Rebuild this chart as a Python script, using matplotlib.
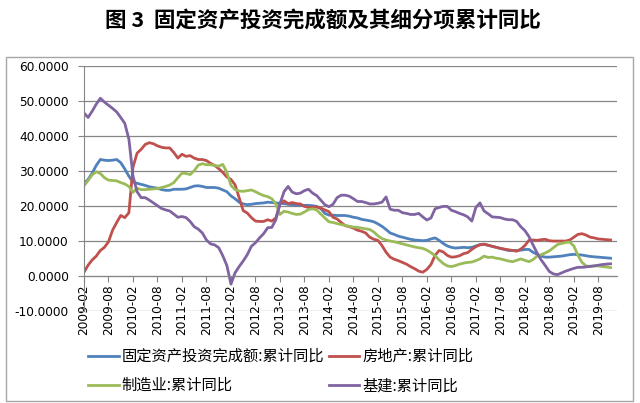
import pandas as pd
import matplotlib
matplotlib.use('Agg')
import matplotlib.pyplot as plt
from matplotlib.patches import Rectangle
from matplotlib.ticker import FuncFormatter

# Mois : 2009-02 -> 2019-11
mois = pd.date_range('2009-02', '2019-11', freq='MS')
etiquettes = list(mois.strftime('%Y-%m'))

# 固定资产投资完成额:累计同比
fai = [26.3, 27.5, 29.3, 31.5, 33.2, 33.0, 32.9, 33.0, 33.2, 32.3, 30.5,
       28.4, 26.8, 26.4, 26.1, 25.8, 25.4, 25.2, 25.0, 24.6, 24.4, 24.4, 24.7,
       24.7, 24.7, 24.8, 25.2, 25.6, 25.7, 25.5, 25.2, 25.2, 25.2, 25.0, 24.5,
       24.0, 22.8, 22.0, 21.0, 20.5, 20.3, 20.4, 20.6, 20.7, 20.8, 21.0, 20.9,
       20.8, 20.7, 20.6, 20.4, 20.3, 20.2, 20.1, 20.1, 20.1, 20.0, 19.8, 19.2,
       17.8, 17.3, 17.3, 17.2, 17.2, 17.2, 17.0, 16.7, 16.5, 16.1, 15.9, 15.7,
       15.4, 14.8, 14.1, 13.2, 12.2, 11.8, 11.3, 11.0, 10.7, 10.4, 10.2, 10.1,
       10.0, 10.1, 10.5, 10.8, 10.1, 9.2, 8.5, 8.1, 7.9, 8.0, 8.1, 8.0,
       8.1, 8.5, 8.9, 9.0, 8.7, 8.4, 8.1, 7.8, 7.5, 7.2, 7.2, 7.2,
       7.3, 7.5, 7.5, 6.7, 6.1, 5.6, 5.3, 5.3, 5.4, 5.5, 5.6, 5.8,
       6.0, 6.1, 6.0, 5.9, 5.7, 5.5, 5.4, 5.3, 5.2, 5.1, 5.0]

# 房地产:累计同比
immo = [1.0, 3.0, 4.5, 5.6, 7.2, 8.1, 9.7, 13.0, 15.2, 17.2, 16.6,
        18.0, 31.0, 35.0, 36.1, 37.5, 38.0, 37.7, 37.1, 36.7, 36.5, 36.5, 35.2,
        33.6, 34.7, 34.1, 34.3, 33.6, 33.2, 33.2, 32.9, 32.1, 31.5, 30.6, 29.5,
        28.2, 27.5, 26.0, 22.3, 18.6, 17.9, 16.6, 15.6, 15.5, 15.5, 16.0, 15.6,
        16.5, 20.5, 21.4, 20.6, 20.9, 20.6, 20.5, 19.8, 19.5, 19.6, 19.6, 19.3,
        18.8, 18.3, 16.7, 16.2, 15.2, 14.3, 14.0, 13.6, 13.0, 12.7, 12.2, 11.0,
        10.4, 10.1, 8.6, 6.7, 5.3, 4.7, 4.3, 3.8, 3.3, 2.6, 2.0, 1.3,
        1.0, 1.8, 3.2, 5.8, 7.2, 6.8, 5.8, 5.3, 5.4, 5.7, 6.3, 6.6,
        7.5, 8.3, 8.8, 9.0, 8.7, 8.4, 8.1, 7.8, 7.6, 7.4, 7.2, 7.0,
        7.6, 8.6, 10.1, 10.2, 10.1, 10.3, 10.4, 10.0, 9.9, 9.9, 9.9, 9.9,
        10.2, 11.0, 11.8, 12.0, 11.6, 11.0, 10.8, 10.5, 10.4, 10.3, 10.2]

# 制造业:累计同比
manuf = [25.7, 27.2, 28.8, 29.7, 29.2, 28.0, 27.3, 27.2, 27.1, 26.6, 26.2,
         25.5, 23.8, 25.0, 24.6, 24.6, 24.7, 24.8, 24.9, 25.2, 25.5, 25.9, 26.6,
         28.0, 29.3, 29.2, 28.9, 30.0, 31.6, 32.0, 31.7, 31.7, 31.5, 31.3, 31.8,
         29.5, 25.8, 24.6, 24.2, 24.1, 24.3, 24.5, 24.0, 23.4, 22.9, 22.6, 22.0,
         20.5, 17.5, 18.4, 18.2, 17.8, 17.5, 17.6, 18.2, 18.9, 19.1, 18.8, 17.6,
         16.5, 15.4, 15.2, 14.9, 14.6, 14.4, 14.1, 13.9, 13.8, 13.6, 13.4, 13.2,
         12.5, 11.4, 10.6, 10.2, 9.9, 9.7, 9.4, 9.1, 8.8, 8.5, 8.2, 8.0,
         7.8, 7.3, 6.6, 5.7, 4.5, 3.5, 2.8, 2.6, 2.9, 3.3, 3.6, 3.8,
         3.9, 4.3, 4.8, 5.6, 5.2, 5.3, 5.0, 4.8, 4.5, 4.2, 4.0, 4.4,
         4.8, 4.4, 4.0, 4.6, 5.6, 6.0, 6.5, 7.1, 8.0, 8.9, 9.2, 9.5,
         9.6, 8.5, 5.8, 3.8, 2.8, 2.6, 2.8, 2.8, 2.6, 2.5, 2.3]

# 基建:累计同比
infra = [46.5, 45.2, 47.0, 49.0, 50.7, 49.6, 48.7, 47.8, 46.8, 45.2, 43.5,
         39.0, 28.5, 24.0, 22.3, 22.3, 21.6, 20.8, 20.0, 19.2, 18.8, 18.5, 17.6,
         16.7, 16.9, 16.6, 15.5, 14.0, 13.3, 12.2, 10.2, 9.1, 8.8, 8.0, 5.7,
         2.9, -2.4, 0.8, 2.6, 4.2, 6.0, 8.4, 9.4, 10.8, 12.0, 13.7, 13.8,
         16.0, 20.5, 24.0, 25.5, 23.9, 23.4, 23.6, 24.3, 24.7, 23.6, 22.9, 21.6,
         20.3, 19.7, 20.4, 22.3, 23.0, 23.0, 22.7, 22.0, 21.2, 21.2, 20.9, 20.5,
         20.5, 20.7, 21.0, 22.5, 19.0, 18.7, 18.7, 18.0, 17.8, 17.5, 17.5, 17.8,
         16.8, 15.9, 16.5, 19.1, 19.5, 19.8, 19.8, 18.7, 18.3, 17.8, 17.4, 16.8,
         15.6, 19.5, 20.8, 18.5, 17.7, 16.8, 16.7, 16.6, 16.2, 16.0, 16.0, 15.5,
         14.0, 12.9, 11.2, 8.8, 6.5, 4.5, 2.9, 1.2, 0.5, 0.3, 0.8, 1.3,
         1.7, 2.1, 2.4, 2.4, 2.5, 2.7, 2.8, 3.0, 3.2, 3.3, 3.4]

noms = ['固定资产投资完成额:累计同比', '房地产:累计同比', '制造业:累计同比', '基建:累计同比']
couleurs = ['#4F81BD', '#C0504D', '#9BBB59', '#8064A2']
titre = '图 3  固定资产投资完成额及其细分项累计同比'
cjk = ['Noto Sans CJK SC', 'DejaVu Sans']
gris = '#868686'

fig = plt.figure(figsize=(6.4, 4.03), dpi=100)
ax = fig.add_axes([84 / 640, 1 - 310.7 / 403, (616.7 - 84) / 640, (310.7 - 65.7) / 403])

x = list(range(len(mois)))
lignes = []
for serie, nom, c in zip([fai, immo, manuf, infra], noms, couleurs):
    l, = ax.plot(x, serie, color=c, lw=2.0, label=nom, solid_joinstyle='round')
    lignes.append(l)

# Axes
ax.set_xlim(0, 130.5)
ax.set_ylim(-10, 60)
ax.set_yticks(range(-10, 61, 10))
ax.yaxis.set_major_formatter(FuncFormatter(lambda v, p: f'{v:.4f}'))
ax.set_xticks(x[::6])
ax.set_xticklabels(etiquettes[::6])
ax.grid(axis='y', color=gris, lw=0.9)
ax.set_axisbelow(True)
for s in ['top', 'right']:
    ax.spines[s].set_visible(False)
ax.spines['left'].set_color(gris)
ax.spines['bottom'].set_color(gris)
ax.spines['bottom'].set_position(('data', 0))
ax.tick_params(axis='y', length=4, pad=7, color=gris, labelsize=8.7)
ax.tick_params(axis='x', length=4, pad=2, color=gris, labelsize=8.7, labelrotation=90)

# Titre et cadre
fig.text(0.505, 1 - 20 / 403, titre, ha='center', va='center', fontsize=15.5,
         fontweight='bold', family=cjk)
fig.patches.append(Rectangle((6 / 640, 1 - 401 / 403), 627 / 640, 344 / 403,
                             transform=fig.transFigure, fill=False, ec='#a6a6a6', lw=1))

# Légende sur 2 colonnes
ordre = [0, 2, 1, 3]
fig.legend([lignes[i] for i in ordre], [noms[i] for i in ordre], ncol=2,
           loc='upper left', bbox_to_anchor=(88 / 640, 1 - 348 / 403), frameon=False,
           prop={'family': cjk, 'size': 11}, handlelength=2.0, handletextpad=0.2,
           columnspacing=0.3, borderpad=0, borderaxespad=0, labelspacing=0.8)

fig.savefig('out.png', dpi=100)
